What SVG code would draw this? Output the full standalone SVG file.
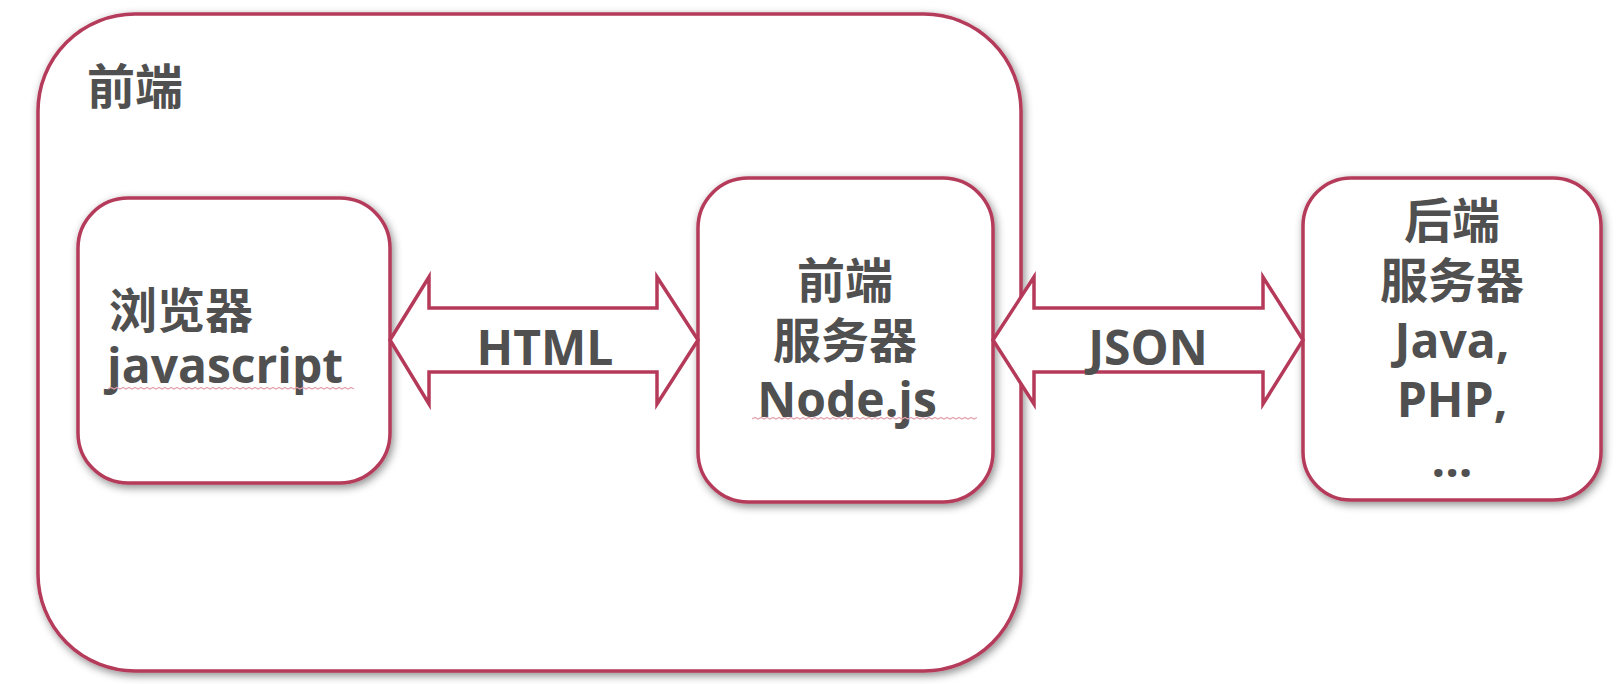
<svg xmlns="http://www.w3.org/2000/svg" width="1622" height="684" viewBox="0 0 1622 684">
<defs>
<filter id="sh" x="-10%" y="-10%" width="120%" height="120%">
<feDropShadow dx="2" dy="3" stdDeviation="4" flood-color="#000" flood-opacity="0.45"/>
</filter>
<style>
.box{fill:#fff;stroke:#b53a5a;stroke-width:3.5;filter:url(#sh)}
.arr{fill:#fff;stroke:#b53a5a;stroke-width:3.5;stroke-linejoin:miter}
.t{font-family:"Open Sans","Noto Sans CJK SC",sans-serif;font-weight:bold;font-size:48px;fill:#505050}
.c{text-anchor:middle}
.sq{fill:none;stroke:#e3a0ac;stroke-width:1.2}
</style>
</defs>
<rect width="1622" height="684" fill="#fff"/>
<g id="frontend">
<rect class="box" x="38" y="14" width="983" height="657" rx="97" ry="97"/>
<text class="t" x="87" y="104">前端</text>
</g>
<g id="browser">
<rect class="box" x="78" y="198" width="312" height="285" rx="50" ry="50"/>
<text class="t" x="109" y="328">浏览器</text>
<text class="t" x="107" y="383">javascript</text>
<path class="sq" d="M108 389 l3 -1.5 l3 1.5 l3 -1.5 l3 1.5 l3 -1.5 l3 1.5 l3 -1.5 l3 1.5 l3 -1.5 l3 1.5 l3 -1.5 l3 1.5 l3 -1.5 l3 1.5 l3 -1.5 l3 1.5 l3 -1.5 l3 1.5 l3 -1.5 l3 1.5 l3 -1.5 l3 1.5 l3 -1.5 l3 1.5 l3 -1.5 l3 1.5 l3 -1.5 l3 1.5 l3 -1.5 l3 1.5 l3 -1.5 l3 1.5 l3 -1.5 l3 1.5 l3 -1.5 l3 1.5 l3 -1.5 l3 1.5 l3 -1.5 l3 1.5 l3 -1.5 l3 1.5 l3 -1.5 l3 1.5 l3 -1.5 l3 1.5 l3 -1.5 l3 1.5 l3 -1.5 l3 1.5 l3 -1.5 l3 1.5 l3 -1.5 l3 1.5 l3 -1.5 l3 1.5 l3 -1.5 l3 1.5 l3 -1.5 l3 1.5 l3 -1.5 l3 1.5 l3 -1.5 l3 1.5 l3 -1.5 l3 1.5 l3 -1.5 l3 1.5 l3 -1.5 l3 1.5 l3 -1.5 l3 1.5 l3 -1.5 l3 1.5 l3 -1.5 l3 1.5 l3 -1.5 l3 1.5 l3 -1.5 l3 1.5 l3 -1.5 l3 1.5"/>
</g>
<g id="frontend-server">
<rect class="box" x="698" y="178" width="295" height="324" rx="50" ry="50"/>
<text class="t c" x="845" y="298">前端</text>
<text class="t c" x="845" y="358">服务器</text>
<text class="t c" x="847" y="417">Node.js</text>
<path class="sq" d="M752 419 l3 -1.5 l3 1.5 l3 -1.5 l3 1.5 l3 -1.5 l3 1.5 l3 -1.5 l3 1.5 l3 -1.5 l3 1.5 l3 -1.5 l3 1.5 l3 -1.5 l3 1.5 l3 -1.5 l3 1.5 l3 -1.5 l3 1.5 l3 -1.5 l3 1.5 l3 -1.5 l3 1.5 l3 -1.5 l3 1.5 l3 -1.5 l3 1.5 l3 -1.5 l3 1.5 l3 -1.5 l3 1.5 l3 -1.5 l3 1.5 l3 -1.5 l3 1.5 l3 -1.5 l3 1.5 l3 -1.5 l3 1.5 l3 -1.5 l3 1.5 l3 -1.5 l3 1.5 l3 -1.5 l3 1.5 l3 -1.5 l3 1.5 l3 -1.5 l3 1.5 l3 -1.5 l3 1.5 l3 -1.5 l3 1.5 l3 -1.5 l3 1.5 l3 -1.5 l3 1.5 l3 -1.5 l3 1.5 l3 -1.5 l3 1.5 l3 -1.5 l3 1.5 l3 -1.5 l3 1.5 l3 -1.5 l3 1.5 l3 -1.5 l3 1.5 l3 -1.5 l3 1.5 l3 -1.5 l3 1.5 l3 -1.5 l3 1.5 l3 -1.5"/>
</g>
<g id="backend-server">
<rect class="box" x="1303" y="178" width="298" height="322" rx="48" ry="48"/>
<text class="t c" x="1452" y="238">后端</text>
<text class="t c" x="1452" y="298">服务器</text>
<text class="t c" x="1452" y="358">Java,</text>
<text class="t c" x="1452" y="417">PHP,</text>
<text class="t c" x="1452" y="477">...</text>
</g>
<g id="connectors">
<polygon class="arr" points="390,340 429,277 429,308 657,308 657,277 698,340 657,404 657,372 429,372 429,404"/>
<text class="t c" x="545" y="365">HTML</text>
<polygon class="arr" points="993,340 1034,277 1034,308 1263,308 1263,277 1303,340 1263,404 1263,372 1034,372 1034,404"/>
<text class="t c" x="1148" y="365">JSON</text>
</g>
</svg>
